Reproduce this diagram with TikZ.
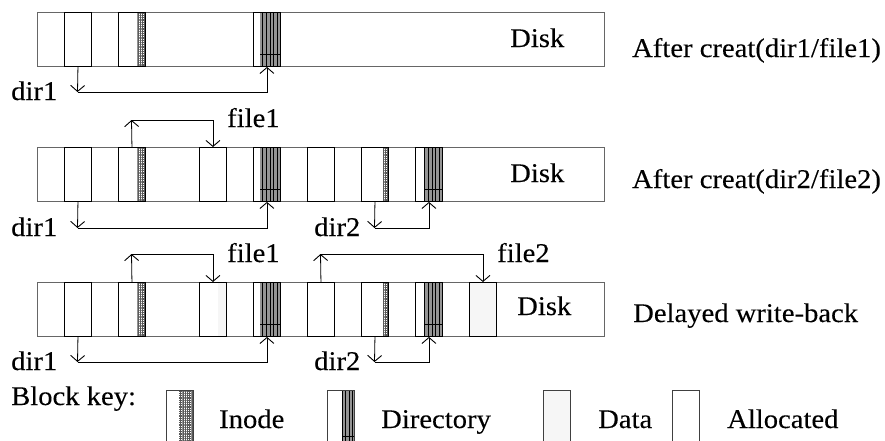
\documentclass[tikz,border=0pt]{standalone}
\usepackage{fontspec}
\setmainfont{Liberation Serif}[FakeStretch=1.06,FakeBold=0.15]
\usetikzlibrary{arrows.meta,patterns.meta}
\newcommand\InodeStripe[3]{\fill[inodefill] (#1,#3) rectangle (#2,#3+54);}
\newcommand\DirStripe[3]{\fill[black!42] (#1,#3) rectangle (#2,#3+54);
  \fill[dirpat] (#1,#3) rectangle (#2,#3+54);
  \draw[line width=0.6pt] (#1,#3+42) -- (#2,#3+42);}
\newcommand\DataStripe[3]{\fill[datafill] (#1,#3) rectangle (#2,#3+54);}
\begin{document}
\begin{tikzpicture}[x=1pt,y=-1pt,
  disk/.style={draw=black!60, line width=0.9pt, inner sep=0, minimum width=567pt, minimum height=54pt, anchor=north west},
  blk/.style={draw=black, line width=0.9pt, inner sep=0, minimum width=27pt, minimum height=54pt, anchor=north west},
  keyblk/.style={draw=black!75, line width=0.7pt, inner sep=0, minimum width=27pt, minimum height=54pt, anchor=north west},
  txt/.style={inner sep=0, anchor=base west, font=\fontsize{27}{30}\selectfont},
  lnk/.style={line width=0.8pt},
  arr/.style={lnk, -{Straight Barb[length=6pt,width=14pt,line width=0.9pt]}},
  inodefill/.style={pattern={Hatch[angle=0,distance=1.8pt,line width=0.4pt]}, pattern color=black!65},
  dirpat/.style={pattern={Lines[angle=90,distance=3.6pt,line width=0.7pt]}, pattern color=black},
  datafill/.style={pattern={Dots[distance=2pt,radius=0.35pt]}, pattern color=black!45}
]
\useasboundingbox (0,0) rectangle (885,440);
% ---------------- row 1 ----------------
\node[disk] (d1) at (37,12) {};
\InodeStripe{137}{145}{12}
\DirStripe{260}{280}{12}
\node[blk] (r1a) at (64,12) {};
\node[blk] (r1i) at (118,12) {};
\node[blk] (r1d) at (253,12) {};
\node[txt] (disk1) at (510,47) {Disk};
\node[txt] (lab1) at (632,57) {After creat(dir1/file1)};
\node[txt] (r1dir1) at (11,100) {dir1};
\coordinate (r1c) at (77.5,92);
\draw[arr] (r1a.south) -- (r1c);
\draw[arr] (r1c) -| (r1d.south);
% ---------------- row 2 ----------------
\node[disk] (d2) at (37,147) {};
\InodeStripe{137}{145}{147}
\DirStripe{260}{280}{147}
\InodeStripe{383}{388}{147}
\DirStripe{424}{442}{147}
\node[blk] (r2a) at (64,147) {};
\node[blk] (r2i) at (118,147) {};
\node[blk] (r2f) at (199,147) {};
\node[blk] (r2d) at (253,147) {};
\node[blk] (r2e) at (307,147) {};
\node[blk] (r2n) at (361,147) {};
\node[blk] (r2g) at (415,147) {};
\node[txt] (disk2) at (510,182) {Disk};
\node[txt] (lab2) at (632,188) {After creat(dir2/file2)};
\node[txt] (r2file1) at (227,127) {file1};
\node[txt] (r2dir1) at (11,236) {dir1};
\node[txt] (r2dir2) at (314,236) {dir2};
\coordinate (r2c1) at (77.5,228);
\draw[arr] (r2a.south) -- (r2c1);
\draw[arr] (r2c1) -| (r2d.south);
\coordinate (r2c2) at (131.5,120);
\draw[arr] (r2i.north) -- (r2c2);
\draw[arr] (r2c2) -| (r2f.north);
\coordinate (r2c3) at (374.5,228);
\draw[arr] (r2n.south) -- (r2c3);
\draw[arr] (r2c3) -| (r2g.south);
% ---------------- row 3 ----------------
\node[disk] (d3) at (37,282) {};
\InodeStripe{137}{145}{282}
\DataStripe{218}{226}{282}
\DirStripe{260}{280}{282}
\InodeStripe{383}{388}{282}
\DirStripe{424}{442}{282}
\DataStripe{469}{496}{282}
\node[blk] (r3a) at (64,282) {};
\node[blk] (r3i) at (118,282) {};
\node[blk] (r3f) at (199,282) {};
\node[blk] (r3d) at (253,282) {};
\node[blk] (r3e) at (307,282) {};
\node[blk] (r3n) at (361,282) {};
\node[blk] (r3g) at (415,282) {};
\node[blk] (r3h) at (469,282) {};
\node[txt] (disk3) at (517,315) {Disk};
\node[txt] (lab3) at (633,322) {Delayed write-back};
\node[txt] (r3file1) at (227,262) {file1};
\node[txt] (r3file2) at (497,262) {file2};
\node[txt] (r3dir1) at (11,370) {dir1};
\node[txt] (r3dir2) at (314,370) {dir2};
\coordinate (r3c1) at (77.5,362);
\draw[arr] (r3a.south) -- (r3c1);
\draw[arr] (r3c1) -| (r3d.south);
\coordinate (r3c2) at (131.5,254);
\draw[arr] (r3i.north) -- (r3c2);
\draw[arr] (r3c2) -| (r3f.north);
\coordinate (r3c3) at (374.5,362);
\draw[arr] (r3n.south) -- (r3c3);
\draw[arr] (r3c3) -| (r3g.south);
\coordinate (r3c4) at (320.5,254);
\draw[arr] (r3e.north) -- (r3c4);
\draw[arr] (r3c4) -| (r3h.north);
% ---------------- block key ----------------
\node[txt] (keylab) at (11,405) {Block key:};
\fill[inodefill] (179,390) rectangle (193,444);
\node[keyblk] (kino) at (166,390) {};
\node[txt] (kinolab) at (219,428) {Inode};
\fill[black!42] (342,390) rectangle (354,444);
\fill[dirpat] (342,390) rectangle (354,444);
\draw[line width=0.6pt] (342,436) -- (354,436);
\node[keyblk] (kdir) at (327,390) {};
\node[txt] (kdirlab) at (381,428) {Directory};
\fill[datafill] (543,390) rectangle (570,444);
\node[keyblk] (kdat) at (543,390) {};
\node[txt] (kdatlab) at (598,428) {Data};
\node[keyblk] (kall) at (672,390) {};
\node[txt] (kalllab) at (727,428) {Allocated};
\end{tikzpicture}
\end{document}
